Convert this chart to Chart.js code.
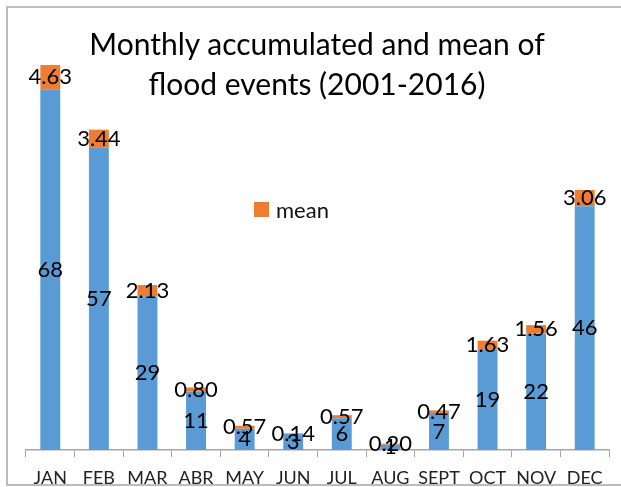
<!DOCTYPE html>
<html>
<head>
<meta charset="utf-8">
<title>Flood events</title>
<script src="https://cdn.jsdelivr.net/npm/chart.js@4"></script>
<style>
    html, body { margin: 0; padding: 0; background: #fff; overflow: hidden; }
    #wrap { position: relative; width: 621px; height: 487px; }
    #frame {
        position: absolute; left: 6px; top: 6px; width: 620px; height: 480px;
        border: 2px solid #bdbdbd; box-sizing: border-box;
    }
    #title {
        position: absolute; left: 0; top: 23px; width: 634px; text-align: center;
        font-family: Lato, sans-serif; font-size: 30px; line-height: 40px; color: #000;
    }
    #legend {
        position: absolute; left: 254px; top: 196px;
        font-family: Lato, sans-serif; font-size: 22px; color: #111;
        display: flex; align-items: center;
    }
    #legend span.box { width: 15px; height: 15px; background: #ED7D31; margin-right: 7px; }
    canvas { position: absolute; left: 0; top: 0; }
</style>
</head>
<body>
<div id="wrap">
    <canvas id="floodChart" width="621" height="487"></canvas>
    <div id="frame"></div>
    <div id="title">Monthly accumulated and mean of<br>flood events (2001-2016)</div>
    <div id="legend"><span class="box"></span>mean</div>
</div>
<script>
const months = ['JAN', 'FEB', 'MAR', 'ABR', 'MAY', 'JUN', 'JUL', 'AUG', 'SEPT', 'OCT', 'NOV', 'DEC'];
const accumulated = [68, 57, 29, 11, 4, 3, 6, 1, 7, 19, 22, 46];
const mean = [4.63, 3.44, 2.13, 0.80, 0.57, 0.14, 0.57, 0.20, 0.47, 1.63, 1.56, 3.06];

// writes each segment's value in the middle of the segment
const segmentLabels = {
    id: 'segmentLabels',
    afterDatasetsDraw(chart) {
        const c = chart.ctx;
        c.save();
        c.font = '22px Lato, sans-serif';
        c.fillStyle = '#000';
        c.textAlign = 'center';
        c.textBaseline = 'middle';
        chart.data.datasets.forEach((ds, i) => {
            const meta = chart.getDatasetMeta(i);
            meta.data.forEach((bar, j) => {
                const v = ds.data[j];
                const txt = ds.decimals ? v.toFixed(ds.decimals) : String(v);
                c.fillText(txt, bar.x, (bar.y + bar.base) / 2);
            });
        });
        c.restore();
    }
};

document.addEventListener('DOMContentLoaded', function() {
    const ctx = document.getElementById('floodChart').getContext('2d');

    new Chart(ctx, {
        type: 'bar',
        data: {
            labels: months,
            datasets: [{
                label: 'accumulated',
                data: accumulated,
                backgroundColor: '#5B9BD5',
                barPercentage: 0.82,
                categoryPercentage: 0.5,
                decimals: 0
            }, {
                label: 'mean',
                data: mean,
                backgroundColor: '#ED7D31',
                barPercentage: 0.82,
                categoryPercentage: 0.5,
                decimals: 2
            }]
        },
        options: {
            responsive: false,
            animation: false,
            layout: {
                padding: { left: 26, right: 12, top: 26, bottom: -12 }
            },
            scales: {
                x: {
                    stacked: true,
                    grid: {
                        offset: true,
                        drawOnChartArea: false,
                        color: '#a6a6a6',
                        tickLength: 7
                    },
                    border: { color: '#a6a6a6', width: 1.5 },
                    ticks: {
                        color: '#222',
                        font: { family: 'Lato, sans-serif', size: 18, lineHeight: 1 },
                        padding: 12,
                        maxRotation: 0,
                        autoSkip: false
                    }
                },
                y: {
                    stacked: true,
                    display: false,
                    min: 0,
                    max: 80
                }
            },
            plugins: {
                legend: { display: false },
                tooltip: { enabled: false }
            }
        },
        plugins: [segmentLabels]
    });
});
</script>
</body>
</html>
